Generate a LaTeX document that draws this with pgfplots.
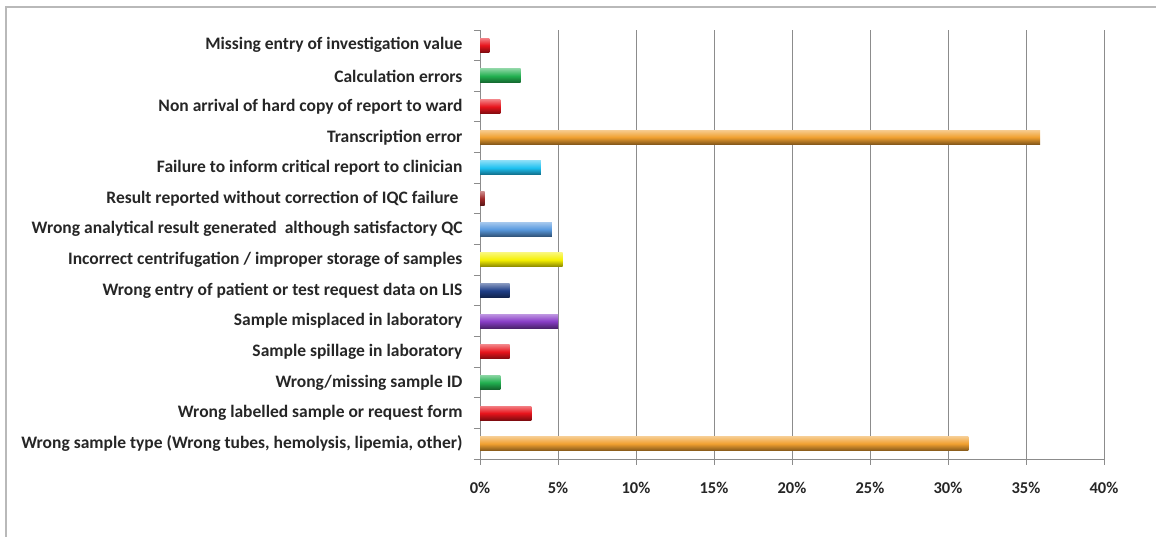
\documentclass[border=0pt]{standalone}
\usepackage{fontspec}
\setmainfont{Carlito}
\usepackage{pgfplots}
\pgfplotsset{compat=1.18}
\definecolor{orangeB}{HTML}{F0A030}
\definecolor{redB}{HTML}{E8141C}
\definecolor{greenB}{HTML}{22B050}
\definecolor{cyanB}{HTML}{1EC0F0}
\definecolor{darkredB}{HTML}{A02828}
\definecolor{lblueB}{HTML}{5B9BE0}
\definecolor{yellowB}{HTML}{F5F000}
\definecolor{navyB}{HTML}{1F3F88}
\definecolor{purpleB}{HTML}{8A3FC8}
\tikzset{gbar/.style={draw=none, top color=#1!55!white, bottom color=#1!55!black, middle color=#1}}
\begin{document}
\begin{tikzpicture}[x=1pt,y=1pt]
\path[use as bounding box] (0,0) rectangle (1156,537);
\draw[gray!55, line width=1.3pt] (6,0) -- (6,530) -- (1156,530);
\begin{axis}[
  at={(480pt,78pt)}, anchor=south west,
  scale only axis, width=624pt, height=429pt,
  xmin=0, xmax=40, ymin=-0.5, ymax=13.5,
  xbar, bar width=14pt, bar shift=0pt,
  axis x line=bottom, axis y line=left,
  axis line style={-, gray!90, line width=0.9pt},
  tick align=outside,
  xtick={0,5,...,40},
  xticklabel={\pgfmathprintnumber[assume math mode=true]{\tick}\%},
  xticklabel style={font=\bfseries\fontsize{16.5}{16.5}\selectfont, text=black!85, yshift=-14pt},
  major x tick style={gray!90, line width=0.9pt},
  major tick length=6pt,
  xmajorgrids, grid style={gray!90, line width=0.9pt},
  ytick={0,...,13},
  major y tick style={draw=none},
  minor ytick={-0.5,0.5,...,13.5},
  minor y tick style={gray!90, line width=0.9pt},
  minor tick length=6pt,
  yticklabels={
    {Wrong sample type (Wrong tubes, hemolysis, lipemia, other)},
    {Wrong labelled sample or request form},
    {Wrong/missing sample ID},
    {Sample spillage in laboratory},
    {Sample misplaced in laboratory},
    {Wrong entry of patient or test request data on LIS},
    {Incorrect centrifugation / improper storage of samples},
    {Wrong analytical result generated\ \ although satisfactory QC},
    {Result reported without correction of IQC failure\ \ },
    {Failure to inform critical report to clinician},
    {Transcription error},
    {Non arrival of hard copy of report to ward},
    {Calculation errors},
    {Missing entry of investigation value}},
  yticklabel style={font=\bfseries\fontsize{17.5}{17.5}\selectfont, text=black!85, xshift=-8pt},
]
\addplot[gbar=orangeB]   coordinates {(31.3,0)};
\addplot[gbar=redB]      coordinates {(3.3,1)};
\addplot[gbar=greenB]    coordinates {(1.3,2)};
\addplot[gbar=redB]      coordinates {(1.9,3)};
\addplot[gbar=purpleB]   coordinates {(5.0,4)};
\addplot[gbar=navyB]     coordinates {(1.9,5)};
\addplot[gbar=yellowB]   coordinates {(5.3,6)};
\addplot[gbar=lblueB]    coordinates {(4.6,7)};
\addplot[gbar=darkredB]  coordinates {(0.3,8)};
\addplot[gbar=cyanB]     coordinates {(3.9,9)};
\addplot[gbar=orangeB]   coordinates {(35.9,10)};
\addplot[gbar=redB]      coordinates {(1.3,11)};
\addplot[gbar=greenB]    coordinates {(2.6,12)};
\addplot[gbar=redB]      coordinates {(0.6,13)};
\end{axis}
\end{tikzpicture}
\end{document}
